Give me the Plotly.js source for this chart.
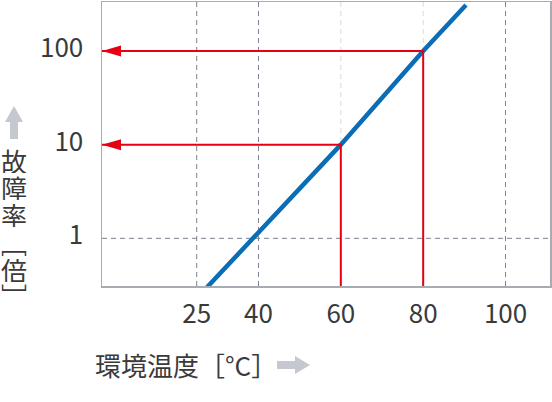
<!DOCTYPE html>
<html>
<head>
<meta charset="utf-8">
<script src="https://cdn.plot.ly/plotly-3.0.1.min.js"></script>
<style>html,body{margin:0;padding:0;background:#fff;}#chart{width:552px;height:402px;}</style>
</head>
<body>
<div id="chart"></div>
<script>
// ---- data ----
const temps = [27.5, 60, 80, 90.4];          // 環境温度 [°C]
const rates = [0.3, 10, 100, 310];           // 故障率 [倍]
const markTemps = [60, 80];
const markRates = [10, 100];
const xTicks = [25, 40, 60, 80, 100];
const xTickText = ['25', '40', '60', '80', '100'];
const yTicks = [1, 10, 100];
const yTickText = ['1', '10', '100'];
const xTitle = '環境温度［°C］';
const yTitleChars = ['故', '障', '率'];
const yUnitOpen = '﹇';
const yUnit = '倍';
const yUnitClose = '﹈';

// ---- layout geometry ----
const W = 552, H = 402;
const M = {l: 102, r: 2, t: 2, b: 116};
const xRange = [2.0, 110.8];
const yRange = [-0.509, 2.523];
const plotW = W - M.l - M.r, plotH = H - M.t - M.b;
const px = x => (x - M.l) / plotW;
const py = y => (H - M.b - y) / plotH;

const FONT = '"Noto Sans CJK JP", "Noto Sans", sans-serif';
const TXT = '#3a3a3a';
const RED = '#e60012';
const BLUE = '#0a6db5';
const GRID = '#7b8190';
const GRID_LIGHT = '#dadada';
const ARROW_GRAY = '#c5c8ce';

const yMin = Math.pow(10, yRange[0]);

const traces = [{
  x: temps, y: rates, type: 'scatter', mode: 'lines',
  line: {color: BLUE, width: 4.5}, hoverinfo: 'skip'
}];
markTemps.forEach((t, i) => {
  traces.push({
    x: [xRange[0], t, t], y: [markRates[i], markRates[i], yMin],
    type: 'scatter', mode: 'lines', line: {color: RED, width: 2}, hoverinfo: 'skip'
  });
});

const shapes = [];
xTicks.forEach(t => {
  shapes.push({type: 'line', xref: 'x', yref: 'paper', x0: t, x1: t, y0: 0, y1: 1, layer: 'below',
    line: {color: markTemps.includes(t) ? GRID_LIGHT : GRID, width: 1, dash: '5px,4px'}});
});
shapes.push({type: 'line', xref: 'paper', yref: 'y', x0: 0, x1: 1, y0: yTicks[0], y1: yTicks[0], layer: 'below',
  line: {color: GRID, width: 1, dash: '5px,4px'}});
// red arrowheads at the y axis
markRates.forEach(r => {
  shapes.push({type: 'path', xref: 'x', yref: 'y', xsizemode: 'pixel', ysizemode: 'pixel',
    xanchor: xRange[0], yanchor: r, path: 'M0,0 L19,5.5 L19,-5.5 Z',
    fillcolor: RED, line: {width: 0}, layer: 'above'});
});
// gray arrows next to axis titles
shapes.push({type: 'path', xref: 'paper', yref: 'paper', xsizemode: 'pixel', ysizemode: 'pixel',
  xanchor: px(14), yanchor: py(139),
  path: 'M-4,0 L-4,17 L-9,17 L0,33 L9,17 L4,17 L4,0 Z',
  fillcolor: ARROW_GRAY, line: {width: 0}});
shapes.push({type: 'path', xref: 'paper', yref: 'paper', xsizemode: 'pixel', ysizemode: 'pixel',
  xanchor: px(277), yanchor: py(365),
  path: 'M0,-4 L18,-4 L18,-9 L33,0 L18,9 L18,4 L0,4 Z',
  fillcolor: ARROW_GRAY, line: {width: 0}});

const annotations = [];
const ann = (text, x, y, xanchor, yanchor, size, h) => {
  const a = {
    text, x: px(x), y: py(y), xref: 'paper', yref: 'paper', showarrow: false,
    xanchor, yanchor, font: {family: FONT, size: size, color: TXT}, borderpad: 0
  };
  if (h) a.height = h;
  return a;
};
annotations.push(ann(xTitle, 94, 364, 'left', 'middle', 26));
const yTitleCenters = [160, 187, 214];
yTitleChars.forEach((c, i) => annotations.push(ann(c, 14, yTitleCenters[i], 'center', 'middle', 26, 26)));
annotations.push(ann(yUnitOpen, 14, 243, 'center', 'middle', 26, 26));
annotations.push(ann(yUnit, 14, 269, 'center', 'middle', 26, 26));
annotations.push(ann(yUnitClose, 14, 295, 'center', 'middle', 26, 26));

const axisCommon = {
  showgrid: false, zeroline: false, showline: true, mirror: true,
  linecolor: '#a8acb2', linewidth: 1.5, ticks: '',
  tickfont: {family: FONT, size: 26, color: TXT}, fixedrange: true
};

const layout = {
  width: W, height: H, margin: M,
  paper_bgcolor: '#ffffff', plot_bgcolor: '#ffffff', showlegend: false,
  font: {family: FONT, color: TXT},
  xaxis: Object.assign({}, axisCommon, {
    range: xRange, tickmode: 'array', tickvals: xTicks, ticktext: xTickText, ticklabelstandoff: 4
  }),
  yaxis: Object.assign({}, axisCommon, {
    type: 'log', range: yRange, tickmode: 'array', tickvals: yTicks, ticktext: yTickText,
    ticklabelstandoff: 12, ticklabelshift: -3
  }),
  shapes, annotations
};

Plotly.newPlot('chart', traces, layout, {displayModeBar: false, staticPlot: true});
</script>
</body>
</html>
